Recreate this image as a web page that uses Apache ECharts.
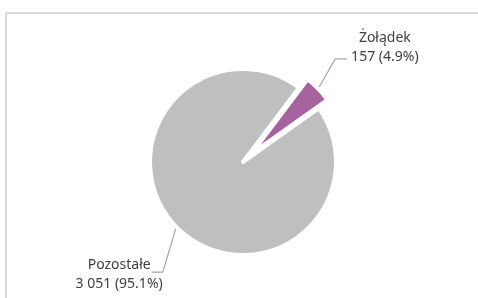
<!DOCTYPE html>
<html>
<head>
<meta charset="utf-8">
<script src="https://cdn.jsdelivr.net/npm/echarts@6/dist/echarts.min.js"></script>
<style>
  html, body { margin: 0; padding: 0; background: #fff; }
  #chart { width: 478px; height: 298px; }
</style>
</head>
<body>
<div id="chart"></div>
<script>
// data
const categories = ['Żołądek', 'Pozostałe']
const values = [157, 3051]
const colors = ['#a6639f', '#bfbfbf']
const exploded = [true, false]

// label line tuning per slice (first leg, second leg, bend, text gap)
const lineLen = [43, 65]
const lineLen2 = [-2, -22]
const bendLen = [12, 11]
const labelGap = [4, -11]
const labelPad = [[0, 0, 22, 0], [4, 0, 0, 0]]

const total = values.reduce((a, b) => a + b, 0)
const fmtNumber = (v) => String(v).replace(/\B(?=(\d{3})+(?!\d))/g, ' ')
const font = '"Noto Sans", sans-serif'

const chart = echarts.init(document.getElementById('chart'), null, { renderer: 'canvas' })

chart.setOption({
  backgroundColor: '#fff',
  animation: false,
  graphic: [
    {
      type: 'rect',
      silent: true,
      shape: { x: 6, y: 13, width: 520, height: 340 },
      style: { fill: 'none', stroke: '#d9d9d9', lineWidth: 2 },
    },
  ],
  series: [
    {
      type: 'pie',
      center: [243, 162],
      radius: 93,
      startAngle: 53,
      clockwise: true,
      selectedMode: 'single',
      selectedOffset: 12,
      avoidLabelOverlap: false,
      emphasis: { disabled: true },
      itemStyle: { borderColor: '#fff', borderWidth: 4 },
      label: {
        show: true,
        position: 'outside',
        formatter: (p) =>
          `{t|${p.name}}\n{t|${fmtNumber(p.value)} (${((p.value / total) * 100).toFixed(1)}%)}`,
        rich: {
          t: { align: 'center', fontFamily: font, fontSize: 14, lineHeight: 19, color: '#404040' },
        },
      },
      labelLine: {
        show: true,
        lineStyle: { color: '#a6a6a6', width: 1.2 },
      },
      labelLayout: (params) => {
        const pts = params.labelLinePoints
        if (!pts) return {}
        const side = pts[2][0] < pts[0][0] ? 1 : -1
        return {
          labelLinePoints: [pts[0], [pts[2][0] + side * bendLen[params.dataIndex], pts[2][1]], pts[2]],
        }
      },
      data: categories.map((name, i) => ({
        name,
        value: values[i],
        selected: exploded[i],
        itemStyle: { color: colors[i] },
        label: { distanceToLabelLine: labelGap[i], padding: labelPad[i] },
        labelLine: { length: lineLen[i], length2: lineLen2[i] },
      })),
    },
  ],
})
</script>
</body>
</html>
